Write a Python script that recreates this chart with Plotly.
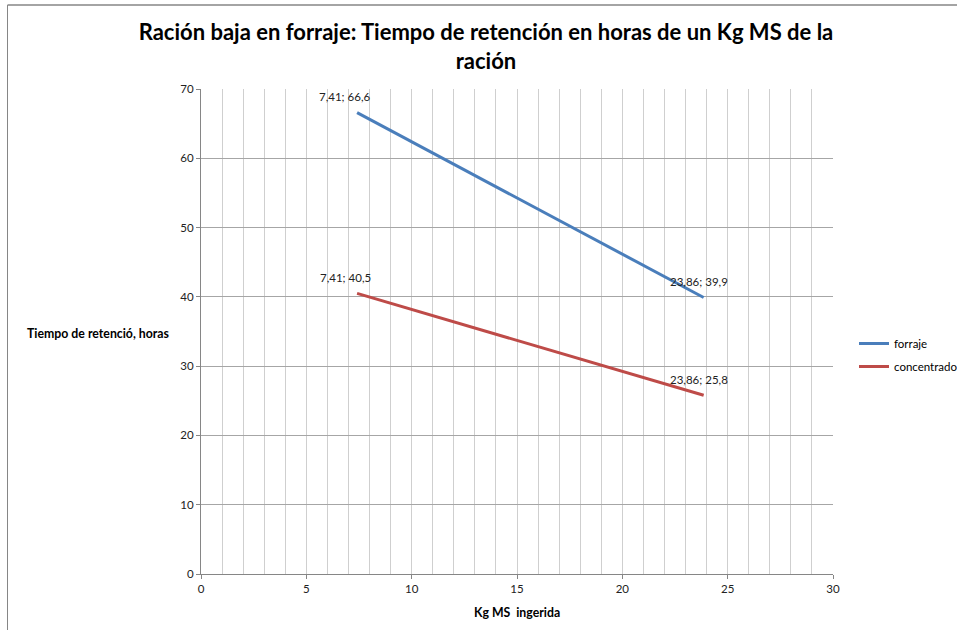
import plotly.graph_objects as go

x_vals = [7.41, 23.86]
forraje = [66.6, 39.9]
concentrado = [40.5, 25.8]
series_names = ["forraje", "concentrado"]
colors = ["#4A7EBB", "#BE4B48"]

title = "Ración baja en forraje: Tiempo de retención en horas de un Kg MS de la<br>ración"
y_title = "Tiempo de retenció, horas"
x_title = "Kg MS&nbsp; ingerida"

FONT = "Lato"

def fmt(v, d):
    return f"{v:.{d}f}".replace(".", ",")

fig = go.Figure()
for name, ys, col in zip(series_names, [forraje, concentrado], colors):
    fig.add_trace(go.Scatter(x=x_vals, y=ys, mode="lines", name=name,
                             legendgroup=name,
                             line=dict(color=col, width=3)))

annotations = []
for ys in [forraje, concentrado]:
    for i, (xv, yv) in enumerate(zip(x_vals, ys)):
        annotations.append(dict(x=xv, y=yv, xref="x", yref="y",
                                text=f"{fmt(xv, 2)}; {fmt(yv, 1)}",
                                showarrow=False, yshift=16,
                                xshift=-12 if i == 0 else -5,
                                font=dict(family=FONT, size=11.5, color="#222")))

# axis titles (Excel-style horizontal y title)
annotations.append(dict(x=(25 - 201) / 632, y=(574 - 333) / 485, xref="paper", yref="paper",
                        text=f"<b>{y_title}</b>", showarrow=False,
                        xanchor="left", yanchor="middle",
                        font=dict(family=FONT, size=12.3, color="#000")))
annotations.append(dict(x=0.5, y=(574 - 612) / 485, xref="paper", yref="paper",
                        text=f"<b>{x_title}</b>", showarrow=False,
                        xanchor="center", yanchor="middle",
                        font=dict(family=FONT, size=12.3, color="#000")))

frame_left = (7.5 - 201) / 632
frame_top = (574 - 5) / 485
fig.update_layout(
    width=957, height=630,
    margin=dict(l=201, r=124, t=89, b=56, autoexpand=False),
    paper_bgcolor="white", plot_bgcolor="white",
    title=dict(text=f"<b>{title}</b>", x=(486 - 201) / 632, xref="paper",
               xanchor="center", y=1 - 40 / 630, yanchor="middle",
               font=dict(family=FONT, size=22, color="#000")),
    showlegend=True,
    legend=dict(x=(854 - 201) / 632, y=(574 - 355) / 485, xanchor="left", yanchor="middle",
                font=dict(family=FONT, size=11.5, color="#000"),
                tracegroupgap=4, itemwidth=30, bgcolor="rgba(0,0,0,0)"),
    annotations=annotations,
    shapes=[
        dict(type="line", xref="paper", yref="paper",
             x0=frame_left, x1=(960 - 201) / 632, y0=frame_top, y1=frame_top,
             line=dict(color="#868686", width=1.5), layer="above"),
        dict(type="line", xref="paper", yref="paper",
             x0=frame_left, x1=frame_left, y0=frame_top, y1=-0.14,
             line=dict(color="#868686", width=1), layer="above"),
    ],
)

fig.update_xaxes(range=[0, 30], dtick=5, tick0=0, showgrid=True,
                 gridcolor="#CFCFCF", gridwidth=1,
                 minor=dict(dtick=1, showgrid=True, gridcolor="#CFCFCF", gridwidth=1),
                 showline=True, linecolor="#868686", linewidth=1,
                 ticks="outside", ticklen=4, tickcolor="#868686",
                 zeroline=False, mirror=False,
                 tickfont=dict(family=FONT, size=11.5, color="#222"))
fig.update_yaxes(range=[0, 70], dtick=10, showgrid=True,
                 gridcolor="#A6A6A6", gridwidth=1,
                 showline=True, linecolor="#868686", linewidth=1,
                 ticks="outside", ticklen=4, tickcolor="#868686",
                 zeroline=False,
                 tickfont=dict(family=FONT, size=11.5, color="#222"))

fig.write_html("out.html", config={"displayModeBar": False},
               post_script="document.body.style.margin='0';")
